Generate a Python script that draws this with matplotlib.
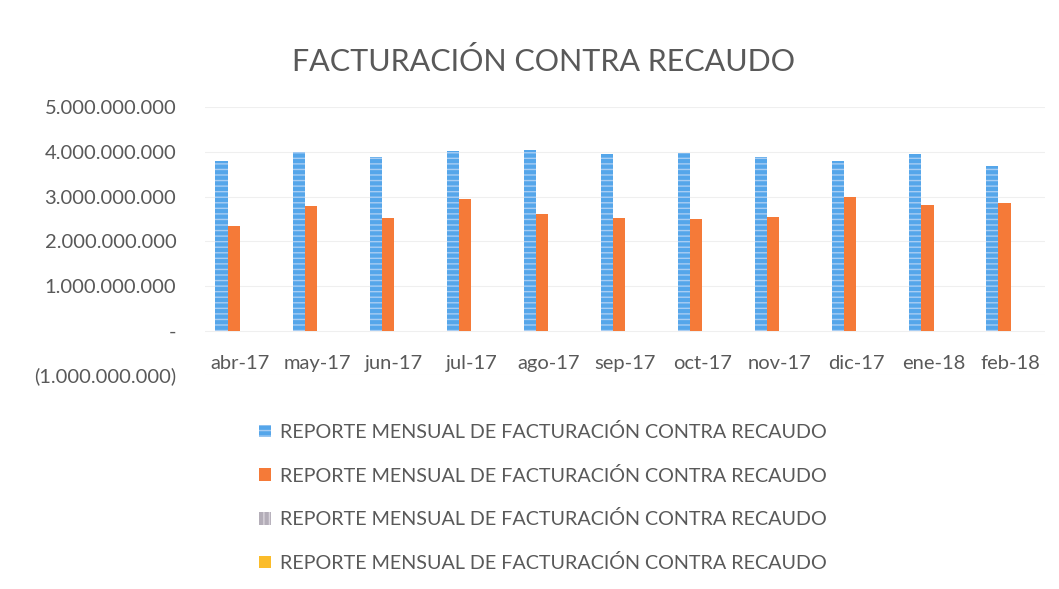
import numpy as np
import matplotlib
matplotlib.use("Agg")
import matplotlib.pyplot as plt
from matplotlib.ticker import FuncFormatter

# Data (COP)
months = ["abr-17", "may-17", "jun-17", "jul-17", "ago-17", "sep-17",
          "oct-17", "nov-17", "dic-17", "ene-18", "feb-18"]
facturacion = [3.80e9, 4.00e9, 3.89e9, 4.02e9, 4.04e9, 3.95e9,
               3.98e9, 3.89e9, 3.80e9, 3.95e9, 3.69e9]
recaudo = [2.33e9, 2.79e9, 2.52e9, 2.94e9, 2.60e9, 2.52e9,
           2.49e9, 2.54e9, 2.99e9, 2.80e9, 2.85e9]
serie_3 = [0] * len(months)
serie_4 = [0] * len(months)
legend_label = "REPORTE MENSUAL DE FACTURACIÓN CONTRA RECAUDO"

plt.rcParams["font.family"] = ["Lato", "DejaVu Sans"]
text_color = "#595959"

fig = plt.figure(figsize=(10.59, 5.89), dpi=100)
ax = fig.add_axes([0.194, 0.363, 0.793, 0.455])

x = np.arange(len(months))
w = 0.16
h1 = ax.bar(x - 1.5 * w, facturacion, w, color="#55a6ea", edgecolor="#a8cdf3",
            linewidth=0, hatch="---", label=legend_label)
h2 = ax.bar(x - 0.5 * w, recaudo, w, color="#f57a38", linewidth=0,
            label=legend_label)
h3 = ax.bar(x + 0.5 * w, serie_3, w, color="#b3adb8", edgecolor="#d9d4dc",
            linewidth=0, hatch="|||", label=legend_label)
h4 = ax.bar(x + 1.5 * w, serie_4, w, color="#fbbc2a", linewidth=0,
            label=legend_label)

ax.set_ylim(-1e9, 5e9)
ax.set_xlim(-0.45, len(months) - 0.55)
ax.set_yticks(np.arange(-1e9, 5.1e9, 1e9))


def fmt(v, pos):
    if abs(v) < 1:
        return "-"
    s = f"{abs(v):,.0f}".replace(",", ".")
    return f"({s})" if v < 0 else s


ax.yaxis.set_major_formatter(FuncFormatter(fmt))
ax.grid(axis="y", color="#efefef", linewidth=0.8)
ax.set_axisbelow(True)
for s in ax.spines.values():
    s.set_visible(False)
ax.tick_params(axis="y", length=0, pad=21, labelsize=14.5, labelcolor=text_color)

ax.set_xticks(x)
ax.set_xticklabels([])
for i, m in enumerate(months):
    ax.text(i, -0.74e9, m, ha="center", va="center", fontsize=14.5, color=text_color)
ax.tick_params(axis="x", length=0)

fig.text(0.513, 0.895, "FACTURACIÓN CONTRA RECAUDO", ha="center", va="center",
         fontsize=22, color=text_color)

fig.legend(handles=[h1, h2, h3, h4], loc="upper left",
           bbox_to_anchor=(0.228, 0.312), frameon=False, fontsize=14.2,
           labelcolor=text_color, handlelength=0.6, handleheight=0.6,
           handletextpad=0.45, labelspacing=1.3)

fig.savefig("out.png", dpi=100, facecolor="white")
